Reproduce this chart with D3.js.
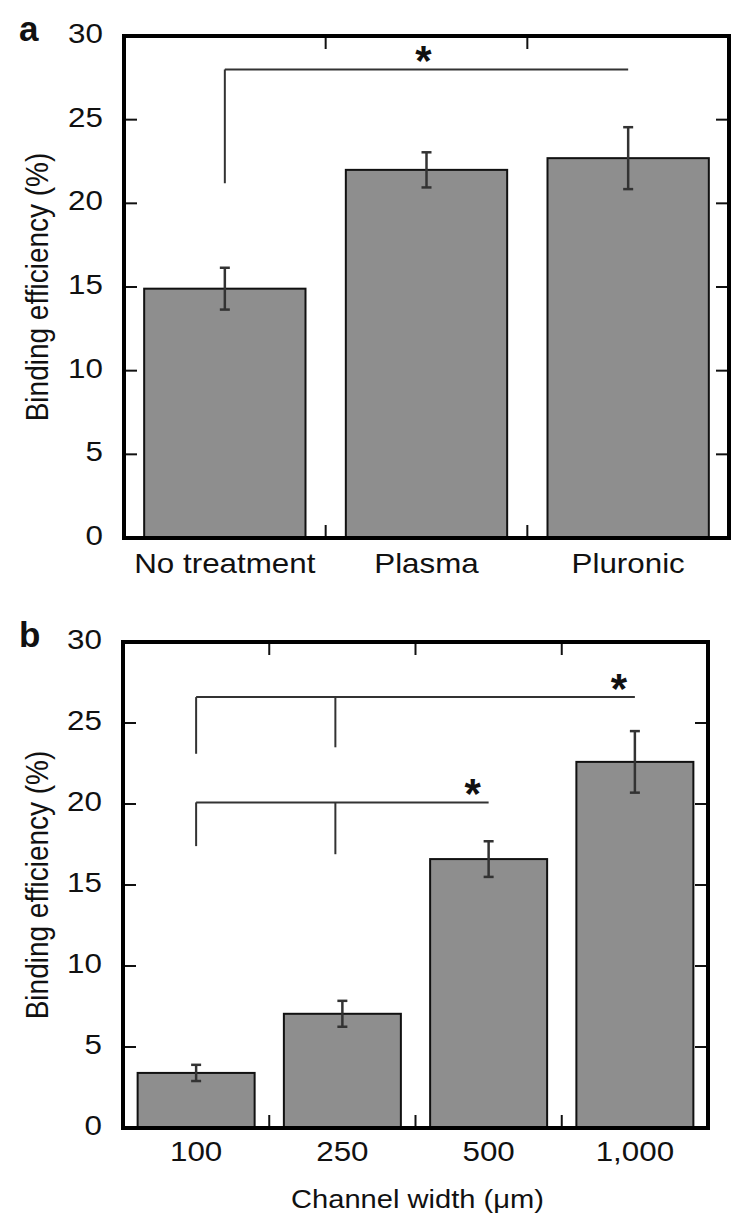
<!DOCTYPE html>
<html>
<head>
<meta charset="utf-8">
<script src="https://cdn.jsdelivr.net/npm/d3@7"></script>
<style>
  html, body { margin: 0; padding: 0; background: #fff; }
  svg { display: block; }
  text { font-family: "Liberation Sans", Arial, Helvetica, sans-serif; fill: #111; }
</style>
</head>
<body>
<svg id="chart" width="750" height="1225"></svg>
<script>
// ---- data ----
const catsA = ["No treatment", "Plasma", "Pluronic"];
const valsA = [14.9, 22.0, 22.7];
const errA  = [1.25, 1.05, 1.85];

const catsB = ["100", "250", "500", "1,000"];
const valsB = [3.4, 7.05, 16.6, 22.6];
const errB  = [0.5, 0.8, 1.1, 1.9];

const yTicks = [0, 5, 10, 15, 20, 25, 30];
const yLabel = "Binding efficiency (%)";
const xLabelB = "Channel width (\u03bcm)";

// significance brackets
const bracketsA = [{from: 0, to: 2, level: 28, legs: [[0, 21.2]], star: "mid"}];
const bracketsB = [
  {from: 0, to: 3, level: 26.6, legs: [[0, 23.1], [1, 23.5]], star: "end"},
  {from: 0, to: 2, level: 20.1, legs: [[0, 17.4], [1, 16.9]], star: "end"}
];

const svg = d3.select("#chart");
const SX = 1.12; // horizontal stretch of the lettering in the original figure

function stretchedText(g, x, y, str, size, anchor, weight) {
  return g.append("text")
    .attr("transform", `translate(${x},${y}) scale(${SX},1)`)
    .attr("text-anchor", anchor).attr("font-size", size)
    .attr("font-weight", weight || "normal").text(str);
}

function panel(opts) {
  const {cats, vals, errs, left, right, top, bottom, letter, brackets, xTitle, labOff} = opts;
  const g = svg.append("g");
  const x = d3.scaleBand().domain(cats).range([left, right]).paddingInner(0.2).paddingOuter(0.1);
  const xb = d3.scaleBand().domain(cats).range([left, right]);
  const y = d3.scaleLinear().domain([0, 30]).range([bottom, top]);
  const cx = d => x(d) + x.bandwidth() / 2;

  // bars
  g.selectAll("rect.bar").data(cats).enter().append("rect")
    .attr("x", d => x(d)).attr("width", x.bandwidth())
    .attr("y", (d, i) => y(vals[i])).attr("height", (d, i) => y(0) - y(vals[i]))
    .attr("fill", "#8e8e8e").attr("stroke", "#111").attr("stroke-width", 2);

  // error bars
  const eg = g.selectAll("g.err").data(cats).enter().append("g").attr("stroke", "#333").attr("stroke-width", 2.5);
  eg.append("line").attr("x1", cx).attr("x2", cx)
    .attr("y1", (d, i) => y(vals[i] + errs[i])).attr("y2", (d, i) => y(vals[i] - errs[i]));
  eg.append("line").attr("x1", d => cx(d) - 5).attr("x2", d => cx(d) + 5)
    .attr("y1", (d, i) => y(vals[i] + errs[i])).attr("y2", (d, i) => y(vals[i] + errs[i]));
  eg.append("line").attr("x1", d => cx(d) - 5).attr("x2", d => cx(d) + 5)
    .attr("y1", (d, i) => y(vals[i] - errs[i])).attr("y2", (d, i) => y(vals[i] - errs[i]));

  // ticks
  const tk = 13;
  const inner = yTicks.filter(t => t > 0 && t < 30);
  g.selectAll("line.yl").data(inner).enter().append("line")
    .attr("x1", left).attr("x2", left + tk).attr("y1", d => y(d)).attr("y2", d => y(d))
    .attr("stroke", "#111").attr("stroke-width", 2);
  g.selectAll("line.yr").data(inner).enter().append("line")
    .attr("x1", right).attr("x2", right - tk).attr("y1", d => y(d)).attr("y2", d => y(d))
    .attr("stroke", "#111").attr("stroke-width", 2);
  const bnds = cats.slice(1).map(c => xb(c));
  g.selectAll("line.xb").data(bnds).enter().append("line")
    .attr("x1", d => d).attr("x2", d => d).attr("y1", bottom).attr("y2", bottom - tk)
    .attr("stroke", "#111").attr("stroke-width", 2);
  g.selectAll("line.xt").data(bnds).enter().append("line")
    .attr("x1", d => d).attr("x2", d => d).attr("y1", top).attr("y2", top + tk)
    .attr("stroke", "#111").attr("stroke-width", 2);

  // frame
  g.append("rect").attr("x", left).attr("y", top).attr("width", right - left).attr("height", bottom - top)
    .attr("fill", "none").attr("stroke", "#000").attr("stroke-width", 4);

  // y tick labels
  yTicks.forEach(t => stretchedText(g, left - 21, y(t) + 7, t, 28, "end"));

  // x tick labels
  cats.forEach(c => stretchedText(g, cx(c), bottom + labOff, c, 28, "middle"));

  // y title
  g.append("text").attr("transform", `translate(48,${(top + bottom) / 2}) scale(${SX},1) rotate(-90)`)
    .attr("text-anchor", "middle").attr("font-size", 28).text(yLabel);

  // panel letter
  g.append("text").attr("x", 19).attr("y", top + 5).attr("font-size", 35).attr("font-weight", "bold").text(letter);

  if (xTitle) stretchedText(g, (left + right) / 2 + 2, bottom + 80, xTitle, 26, "middle");

  // brackets
  brackets.forEach(b => {
    const bg = g.append("g").attr("stroke", "#333").attr("stroke-width", 2).attr("fill", "none");
    const x1 = cx(cats[b.from]), x2 = cx(cats[b.to]);
    bg.append("line").attr("x1", x1).attr("x2", x2).attr("y1", y(b.level)).attr("y2", y(b.level));
    b.legs.forEach(l => {
      const lx = cx(cats[l[0]]) - (l[0] === b.from ? 0 : 7);
      bg.append("line").attr("x1", lx).attr("x2", lx).attr("y1", y(b.level)).attr("y2", y(l[1]));
    });
    const sx = b.star === "mid" ? (x1 + x2) / 2 - 3 : x2 - 16;
    g.append("text").attr("x", sx).attr("y", y(b.level) + 6)
      .attr("text-anchor", "middle").attr("font-size", 42).attr("font-weight", "bold").text("*");
  });
}

panel({cats: catsA, vals: valsA, errs: errA, left: 124, right: 729, top: 36, bottom: 538,
       letter: "a", brackets: bracketsA, labOff: 35});
panel({cats: catsB, vals: valsB, errs: errB, left: 123, right: 708, top: 642, bottom: 1128,
       letter: "b", brackets: bracketsB, xTitle: xLabelB, labOff: 33});
</script>
</body>
</html>
